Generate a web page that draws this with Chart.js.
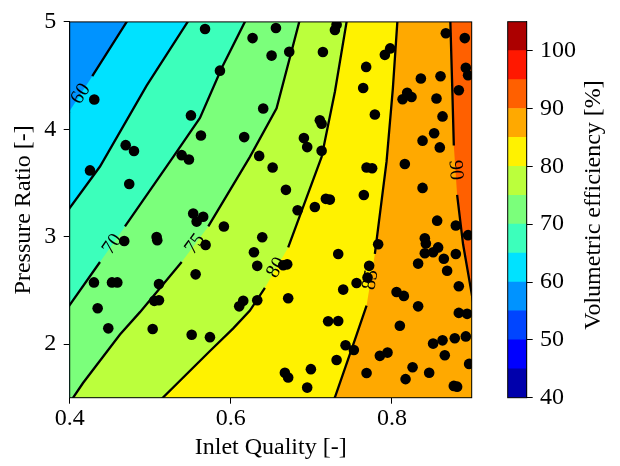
<!DOCTYPE html>
<html>
<head>
<meta charset="utf-8">
<script src="https://cdn.jsdelivr.net/npm/chart.js@4.4.1/dist/chart.umd.min.js"></script>
<style>
html,body{margin:0;padding:0;background:#fff;}
#wrap{position:relative;width:620px;height:466px;}
#main{position:absolute;left:0;top:0;}
#bar{position:absolute;left:480px;top:0;}
</style>
</head>
<body>
<div id="wrap">
<canvas id="main" width="620" height="466"></canvas>
<canvas id="bar" width="140" height="466"></canvas>
</div>
<script>
// axes
const xRange = [0.4, 0.899];
const yRange = [1.5, 5];
const xTicks = [0.4, 0.6, 0.8];
const yTicks = [2, 3, 4, 5];
const cbTicks = [40, 50, 60, 70, 80, 90, 100];
const levels = [40, 45, 50, 55, 60, 65, 70, 75, 80, 85, 90, 95, 100, 105];

// contour lines [inlet quality, pressure ratio], from the top edge downwards
const c60 = [[0.4785,5.093],[0.4707,5.0],[0.428,4.494],[0.3995,4.165],[0.388,4.033]];
const c65 = [[0.5555,5.099],[0.5464,5.0],[0.4955,4.406],[0.4376,3.653],[0.3995,3.261],[0.388,3.156]];
const c70 = [[0.624,5.099],[0.6174,5.0],[0.589,4.575],[0.5617,4.105],[0.5285,3.743],[0.4686,3.095],[0.4376,2.764],[0.3995,2.357],[0.3904,2.269]];
const c75 = [[0.6881,5.099],[0.6849,5.0],[0.6568,4.195],[0.6237,3.743],[0.572,3.095],[0.539,2.764],[0.4872,2.297],[0.4624,2.089],[0.4165,1.637],[0.4045,1.504],[0.4004,1.438]];
const c80 = [[0.7466,5.099],[0.7437,5.0],[0.7292,4.349],[0.7127,3.743],[0.6712,2.9],[0.6423,2.523],[0.6237,2.312],[0.603,2.146],[0.5741,1.935],[0.5161,1.504],[0.5071,1.438]];
const c85 = [[0.8073,5.099],[0.8067,5.0],[0.8011,4.376],[0.7933,3.698],[0.7788,2.839],[0.7685,2.357],[0.7561,2.086],[0.7292,1.504],[0.7254,1.438]];
const c90 = [[0.8718,5.099],[0.8725,5.0],[0.8749,4.376],[0.8768,3.849],[0.8809,3.388],[0.8883,2.929],[0.8988,2.477],[0.9066,2.116]];
const contourLevels = [60, 65, 70, 75, 80, 85, 90];
const contours = [c60, c65, c70, c75, c80, c85, c90];
const labelSeg = [2, null, 5, 4, 4, 4, 3]; // segment of each line that carries its label

// measured points
const quality = [0.568,0.4305,0.5505,0.5629,0.4695,0.4798,0.539,0.548,0.4252,0.627,
  0.656,0.7313,0.7292,0.6506,0.6725,0.7143,0.5865,0.7978,0.7912,0.768,
  0.7643,0.7788,0.6402,0.7105,0.7127,0.6166,0.6907,0.6948,0.7127,0.6352,
  0.6519,0.7685,0.7754,0.816,0.8669,0.8904,0.8359,0.8603,0.8917,0.8945,
  0.883,0.8189,0.8243,0.8132,0.8553,0.8628,0.8524,0.838,0.8594,0.4739,
  0.5533,0.5657,0.5576,0.4677,0.5079,0.5087,0.5563,0.4301,0.4525,0.4591,
  0.5108,0.505,0.5108,0.4347,0.6684,0.6829,0.7043,0.718,0.7229,0.7651,
  0.5914,0.639,0.6287,0.6328,0.665,0.67,0.5687,0.7333,0.7829,0.7717,
  0.7697,0.7561,0.7395,0.6712,0.6328,0.6154,0.6104,0.8057,0.8148,0.838,
  0.8561,0.8793,0.8945,0.8408,0.8421,0.8573,0.8511,0.8408,0.8793,0.8644,
  0.8325,0.8685,0.883,0.8325,0.883,0.8933,0.4479,0.503,0.5514,0.5741,
  0.7208,0.7333,0.8098,0.7424,0.7527,0.7313,0.785,0.7945,0.6671,0.6712,
  0.6994,0.6948,0.7685,0.8169,0.8511,0.8628,0.878,0.8917,0.8656,0.8958,
  0.8256,0.8462,0.8768,0.8809];
const ratio = [4.934,4.277,4.129,3.942,3.852,3.797,3.759,3.719,3.617,4.849,
  4.943,4.973,4.925,4.686,4.722,4.720,4.546,4.753,4.693,4.581,
  4.385,4.138,4.193,4.084,4.051,3.927,3.918,3.834,3.800,3.752,
  3.644,3.644,3.637,3.677,4.894,4.849,4.473,4.494,4.572,4.503,
  4.364,4.340,4.301,4.279,4.286,4.120,3.963,3.894,3.831,3.490,
  3.216,3.185,3.140,2.959,2.996,2.966,2.649,2.574,2.574,2.574,
  2.559,2.402,2.408,2.333,3.436,3.246,3.276,3.352,3.345,3.388,
  3.095,2.995,2.854,2.728,2.733,2.742,2.923,2.839,2.929,2.728,
  2.619,2.568,2.507,2.426,2.408,2.402,2.351,2.484,2.448,3.454,
  3.149,3.104,3.014,2.984,2.936,2.900,2.854,2.845,2.839,2.794,
  2.749,2.683,2.538,2.351,2.290,2.281,2.146,2.140,2.086,2.064,
  2.212,2.215,2.170,1.989,1.944,1.851,1.890,1.920,1.733,1.688,
  1.766,1.594,1.730,1.673,2.004,2.034,2.053,2.071,1.896,1.815,
  1.784,1.733,1.610,1.603];

// jet colours of the 13 bands
const jet = ['#0000ac','#0000ff','#0045ff','#0093ff','#00e2ff','#3cffbb','#7bff7b',
  '#bbff3c','#fff200','#ffa900','#ff6000','#ff1800','#ac0000'];

const FONT = 'Liberation Serif, Times New Roman, serif';
const X0 = xRange[0], X1 = xRange[1], Y0 = yRange[0], Y1 = yRange[1];

const toPts = arr => arr.map(p => ({x: p[0], y: p[1]}));

// area to the right of a contour line (higher efficiency)
function region(line) {
  const first = line[0], last = line[line.length - 1];
  return toPts(line.concat([[last[0], Y0 - 1], [X1 + 1, Y0 - 1], [X1 + 1, Y1 + 1], [first[0], Y1 + 1]]));
}

const datasets = [];
datasets.push({
  data: quality.map((q, i) => ({x: q, y: ratio[i]})),
  showLine: false, pointRadius: 5.3, pointBackgroundColor: '#000',
  pointBorderWidth: 0, order: 0
});
contours.forEach((c, i) => {
  datasets.push({
    data: toPts(c), borderColor: '#000', borderWidth: 2.3, pointRadius: 0, fill: false, order: 10,
    segment: {borderColor: ctx => ctx.p0DataIndex === labelSeg[i] ? 'rgba(0,0,0,0)' : '#000'}
  });
});
datasets.push({
  data: toPts([[X0 - 1, Y0 - 1], [X1 + 1, Y0 - 1], [X1 + 1, Y1 + 1], [X0 - 1, Y1 + 1]]),
  fill: 'shape', backgroundColor: jet[levels.indexOf(55)], borderWidth: 0,
  borderColor: 'rgba(0,0,0,0)', pointRadius: 0, order: 200
});
contours.forEach((c, i) => {
  datasets.push({
    data: region(c), fill: 'shape', backgroundColor: jet[levels.indexOf(contourLevels[i])],
    borderWidth: 0, borderColor: 'rgba(0,0,0,0)', pointRadius: 0, order: 100 - i
  });
});

const frame = {
  id: 'frame',
  afterDraw(chart) {
    const a = chart.chartArea, ctx = chart.ctx;
    ctx.save();
    ctx.strokeStyle = '#000';
    ctx.lineWidth = 1;
    ctx.strokeRect(a.left, a.top, a.right - a.left, a.bottom - a.top);
    ctx.restore();
  }
};

const contourLabels = {
  id: 'contourLabels',
  beforeDatasetDraw(chart, args) {
    if (args.index !== 0) return;
    const ctx = chart.ctx, sx = chart.scales.x, sy = chart.scales.y;
    ctx.save();
    ctx.font = '20px ' + FONT;
    ctx.fillStyle = '#000';
    ctx.textAlign = 'center';
    ctx.textBaseline = 'middle';
    contours.forEach((c, i) => {
      const s = labelSeg[i];
      if (s === null) return;
      const x0 = sx.getPixelForValue(c[s][0]), y0 = sy.getPixelForValue(c[s][1]);
      const x1 = sx.getPixelForValue(c[s + 1][0]), y1 = sy.getPixelForValue(c[s + 1][1]);
      let ang = Math.atan2(y1 - y0, x1 - x0);
      if (ang > Math.PI / 2) ang -= Math.PI;
      if (ang < -Math.PI / 2) ang += Math.PI;
      ctx.save();
      ctx.translate((x0 + x1) / 2, (y0 + y1) / 2);
      ctx.rotate(ang);
      ctx.fillText(String(contourLevels[i]), 0, 0);
      ctx.restore();
    });
    ctx.restore();
  }
};

const tickFont = {family: FONT, size: 24};

new Chart(document.getElementById('main'), {
  type: 'line',
  data: {datasets: datasets},
  options: {
    responsive: false,
    animation: false,
    layout: {padding: {left: 0, right: 148.3, top: 11, bottom: 0}},
    plugins: {legend: {display: false}, tooltip: {enabled: false}},
    scales: {
      x: {
        type: 'linear', min: X0, max: X1,
        afterBuildTicks: s => { s.ticks = xTicks.map(v => ({value: v})); },
        afterFit: s => { s.height = 68.3; },
        ticks: {font: tickFont, color: '#000', padding: 1, maxRotation: 0, callback: v => v.toFixed(1)},
        grid: {drawOnChartArea: false, tickLength: 6, color: '#000'},
        border: {color: '#000', width: 1},
        title: {display: true, text: 'Inlet Quality [-]', font: tickFont, color: '#000', padding: {top: 0, bottom: 3.6}}
      },
      y: {
        type: 'linear', min: Y0, max: Y1,
        afterBuildTicks: s => { s.ticks = yTicks.map(v => ({value: v})); },
        afterFit: s => { s.width = 69.7; },
        ticks: {font: tickFont, color: '#000', padding: 7.5, callback: v => String(v)},
        grid: {drawOnChartArea: false, tickLength: 6, color: '#000'},
        border: {color: '#000', width: 1},
        title: {display: true, text: 'Pressure Ratio [-]', font: tickFont, color: '#000', padding: {top: 9.6, bottom: 0}}
      }
    }
  },
  plugins: [frame, contourLabels]
});

const cbTitle = {
  id: 'cbTitle',
  afterDraw(chart) {
    const ctx = chart.ctx;
    ctx.save();
    ctx.font = '24px ' + FONT;
    ctx.fillStyle = '#000';
    ctx.textAlign = 'center';
    ctx.textBaseline = 'alphabetic';
    ctx.translate(120, 205);
    ctx.rotate(-Math.PI / 2);
    ctx.fillText('Volumetric efficiency [%]', 0, 0);
    ctx.restore();
  }
};

new Chart(document.getElementById('bar'), {
  type: 'bar',
  data: {
    labels: [''],
    datasets: levels.slice(0, -1).map((lo, i) => ({
      data: [[lo, levels[i + 1]]], backgroundColor: jet[i], borderWidth: 0,
      barPercentage: 1, categoryPercentage: 1, grouped: false
    }))
  },
  options: {
    responsive: false,
    animation: false,
    layout: {padding: {left: 27.7, right: 0, top: 11, bottom: 68.3}},
    plugins: {legend: {display: false}, tooltip: {enabled: false}},
    scales: {
      x: {display: false},
      y: {
        position: 'right', min: levels[0], max: levels[levels.length - 1],
        afterBuildTicks: s => { s.ticks = cbTicks.map(v => ({value: v})); },
        afterFit: s => { s.width = 93.3; },
        ticks: {font: tickFont, color: '#000', padding: 7.3},
        grid: {drawOnChartArea: false, tickLength: 6, color: '#000'},
        border: {color: '#000', width: 1}
      }
    }
  },
  plugins: [frame, cbTitle]
});
</script>
</body>
</html>
